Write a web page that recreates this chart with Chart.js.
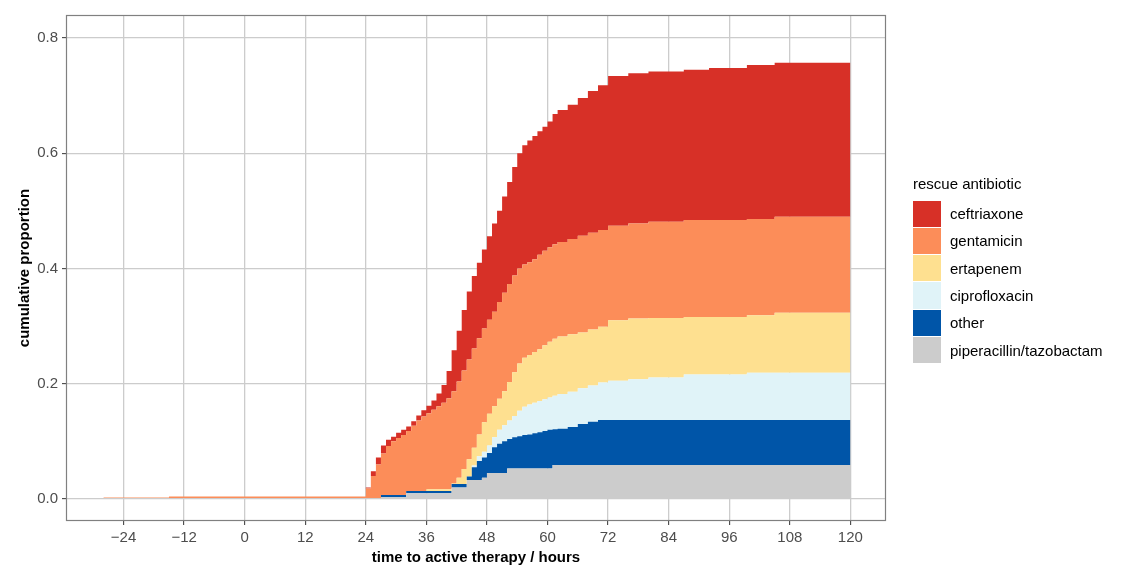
<!DOCTYPE html>
<html>
<head>
<meta charset="utf-8">
<script src="https://cdn.jsdelivr.net/npm/chart.js@4.4.1/dist/chart.umd.min.js"></script>
<style>
  html, body { margin: 0; padding: 0; background: #fff; }
  #wrap { position: relative; width: 1127px; height: 567px; font-family: "Liberation Sans", Arial, sans-serif; }
  #chart { position: absolute; left: 0; top: 0; }
  #legend { position: absolute; left: 913px; top: 175px; }
  #legend .title { font-size: 15px; line-height: 18px; height: 25px; color: #000; }
  #legend .item { display: flex; align-items: center; height: 27.3px; }
  #legend .box { width: 28px; height: 26.3px; margin-right: 9px; }
  #legend .lbl { font-size: 15px; color: #000; }
</style>
</head>
<body>
<div id="wrap">
  <canvas id="chart" width="1127" height="567"></canvas>
  <div id="legend"></div>
</div>
<script>
'use strict';

// time to active therapy (hours), shared by all layers
var hours = [-28, -15, 24, 25, 26, 27, 28, 29, 30, 31, 32, 33, 34, 35, 36, 37, 38, 39, 40, 41,
  42, 43, 44, 45, 46, 47, 48, 49, 50, 51, 52, 53, 54, 55, 56, 57, 58, 59, 60, 61,
  62, 64, 66, 68, 70, 72, 76, 80, 87, 92, 99.5, 105, 120];

// cumulative proportion at the top of each layer
var pipTazTop = [0.0015, 0.0015, 0.0015, 0.0015, 0.0015, 0.003, 0.003, 0.003, 0.003, 0.003,
  0.01, 0.01, 0.01, 0.01, 0.01, 0.01, 0.01, 0.01, 0.01, 0.02,
  0.02, 0.02, 0.033, 0.033, 0.033, 0.037, 0.045, 0.045, 0.045, 0.045,
  0.053, 0.053, 0.053, 0.053, 0.053, 0.053, 0.053, 0.053, 0.053, 0.059,
  0.059, 0.059, 0.059, 0.059, 0.059, 0.059, 0.059, 0.059, 0.059, 0.059, 0.059, 0.059, 0.059];

var otherTop = [0.0015, 0.0015, 0.0015, 0.0015, 0.0015, 0.007, 0.007, 0.007, 0.007, 0.007,
  0.014, 0.014, 0.014, 0.014, 0.014, 0.014, 0.014, 0.014, 0.014, 0.026,
  0.026, 0.026, 0.039, 0.055, 0.066, 0.072, 0.08, 0.09, 0.096, 0.1,
  0.104, 0.107, 0.109, 0.111, 0.112, 0.114, 0.116, 0.118, 0.12, 0.121,
  0.122, 0.125, 0.13, 0.134, 0.137, 0.137, 0.137, 0.137, 0.137, 0.137, 0.137, 0.137, 0.137];

var ciproTop = [0.0015, 0.0015, 0.0015, 0.0015, 0.0015, 0.007, 0.007, 0.007, 0.007, 0.007,
  0.014, 0.014, 0.014, 0.014, 0.014, 0.014, 0.014, 0.014, 0.014, 0.026,
  0.026, 0.026, 0.039, 0.058, 0.074, 0.082, 0.093, 0.107, 0.12, 0.128,
  0.136, 0.144, 0.153, 0.16, 0.164, 0.167, 0.17, 0.173, 0.176, 0.179,
  0.182, 0.186, 0.192, 0.197, 0.202, 0.205, 0.208, 0.211, 0.216, 0.216, 0.219, 0.219, 0.219];

var ertaTop = [0.0015, 0.0015, 0.0015, 0.0015, 0.0015, 0.007, 0.007, 0.007, 0.007, 0.007,
  0.014, 0.014, 0.014, 0.014, 0.017, 0.017, 0.017, 0.017, 0.017, 0.027,
  0.037, 0.052, 0.069, 0.089, 0.112, 0.133, 0.148, 0.161, 0.174, 0.187,
  0.203, 0.22, 0.235, 0.245, 0.25, 0.255, 0.26, 0.267, 0.273, 0.278,
  0.282, 0.286, 0.289, 0.294, 0.299, 0.31, 0.313, 0.314, 0.316, 0.316, 0.319, 0.323, 0.323];

var gentaTop = [0.0025, 0.0045, 0.018, 0.04, 0.06, 0.079, 0.092, 0.1, 0.106, 0.111,
  0.118, 0.127, 0.136, 0.143, 0.149, 0.155, 0.161, 0.167, 0.175, 0.187,
  0.204, 0.223, 0.242, 0.261, 0.279, 0.296, 0.311, 0.325, 0.342, 0.358,
  0.373, 0.388, 0.4, 0.407, 0.411, 0.416, 0.424, 0.431, 0.437, 0.442,
  0.446, 0.451, 0.457, 0.462, 0.467, 0.474, 0.478, 0.481, 0.484, 0.484, 0.486, 0.49, 0.49];

var ceftTop = [0.0025, 0.0045, 0.02, 0.048, 0.072, 0.093, 0.103, 0.108, 0.115, 0.12,
  0.126, 0.135, 0.145, 0.154, 0.162, 0.171, 0.183, 0.198, 0.222, 0.258,
  0.292, 0.328, 0.36, 0.387, 0.41, 0.433, 0.456, 0.478, 0.5, 0.525,
  0.55, 0.576, 0.6, 0.614, 0.622, 0.63, 0.638, 0.646, 0.655, 0.668,
  0.675, 0.684, 0.696, 0.708, 0.718, 0.734, 0.739, 0.742, 0.745, 0.748, 0.753, 0.757, 0.757];

var layerNames = ['piperacillin/tazobactam', 'other', 'ciprofloxacin', 'ertapenem', 'gentamicin', 'ceftriaxone'];
var layerValues = [pipTazTop, otherTop, ciproTop, ertaTop, gentaTop, ceftTop];
var layerColors = ['#cccccc', '#0055a8', '#e0f3f8', '#fee090', '#fc8d59', '#d73027'];

var xTicks = [-24, -12, 0, 12, 24, 36, 48, 60, 72, 84, 96, 108, 120];
var yTicks = [0, 0.2, 0.4, 0.6, 0.8];

var datasets = layerValues.map(function (vals, i) {
  return {
    label: layerNames[i],
    data: hours.map(function (h, j) { return { x: h, y: vals[j] }; }),
    stepped: true,
    borderWidth: 0,
    pointRadius: 0,
    backgroundColor: layerColors[i],
    borderColor: layerColors[i],
    fill: i === 0 ? 'origin' : '-1'
  };
});

// grey frame round the panel, like theme_bw
var panelBorder = {
  id: 'panelBorder',
  afterDatasetsDraw: function (chart) {
    var a = chart.chartArea, ctx = chart.ctx;
    ctx.save();
    ctx.strokeStyle = '#808080';
    ctx.lineWidth = 1.2;
    ctx.strokeRect(a.left + 0.5, a.top + 0.5, a.right - a.left - 1, a.bottom - a.top - 1);
    ctx.restore();
  }
};

var tickFont = { family: '"Liberation Sans", Arial, sans-serif', size: 15 };
var titleFont = { family: '"Liberation Sans", Arial, sans-serif', size: 15, weight: 'bold' };

new Chart(document.getElementById('chart').getContext('2d'), {
  type: 'line',
  data: { datasets: datasets },
  options: {
    responsive: false,
    animation: false,
    layout: { padding: { top: 15, right: 241, left: 0, bottom: 0 } },
    plugins: { legend: { display: false }, tooltip: { enabled: false } },
    scales: {
      x: {
        type: 'linear',
        min: -35.4,
        max: 127.06,
        afterBuildTicks: function (s) { s.ticks = xTicks.map(function (v) { return { value: v }; }); },
        afterFit: function (s) { s.height = 46; },
        border: { display: false },
        grid: { color: '#cccccc', lineWidth: 1.3, tickColor: '#333333', tickLength: 4, tickWidth: 1 },
        ticks: {
          color: '#4d4d4d', font: tickFont, padding: 4, maxRotation: 0,
          callback: function (v) { return v < 0 ? '\u2212' + Math.abs(v) : String(v); }
        },
        title: { display: true, text: 'time to active therapy / hours', color: '#000', font: titleFont, padding: { top: 0, bottom: 0 } }
      },
      y: {
        min: -0.0382,
        max: 0.8399,
        afterBuildTicks: function (s) { s.ticks = yTicks.map(function (v) { return { value: v }; }); },
        afterFit: function (s) { s.width = 66; },
        border: { display: false },
        grid: { color: '#cccccc', lineWidth: 1.3, tickColor: '#333333', tickLength: 4, tickWidth: 1 },
        ticks: {
          color: '#4d4d4d', font: tickFont, padding: 4,
          callback: function (v) { return v.toFixed(1); }
        },
        title: { display: true, text: 'cumulative proportion', color: '#000', font: titleFont, padding: { top: 16, bottom: 0 } }
      }
    }
  },
  plugins: [panelBorder]
});

// legend on the right, top layer first
var legend = document.getElementById('legend');
var html = '<div class="title">rescue antibiotic</div>';
for (var i = layerNames.length - 1; i >= 0; i--) {
  html += '<div class="item"><div class="box" style="background:' + layerColors[i] + '"></div>' +
    '<div class="lbl">' + layerNames[i] + '</div></div>';
}
legend.innerHTML = html;
</script>
</body>
</html>
